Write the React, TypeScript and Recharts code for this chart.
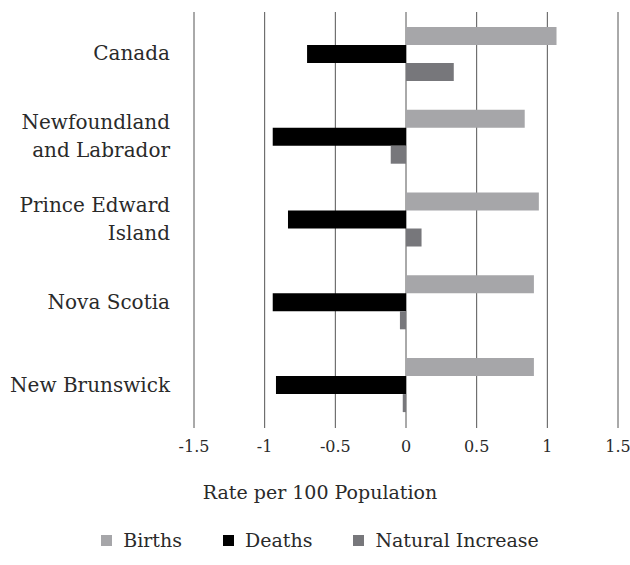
import { Bar, BarChart, CartesianGrid, Legend, XAxis, YAxis } from "recharts"

const categories = ["Canada", "Newfoundland and Labrador", "Prince Edward Island", "Nova Scotia", "New Brunswick"]
// how each province name wraps on the axis
const categoryLines = [["Canada"], ["Newfoundland", "and Labrador"], ["Prince Edward", "Island"], ["Nova Scotia"], ["New Brunswick"]]
const births = [1.065, 0.84, 0.94, 0.905, 0.905]
const deaths = [-0.7, -0.943, -0.835, -0.943, -0.92]
const naturalIncrease = [0.338, -0.108, 0.11, -0.043, -0.023]
const xTicks = [-1.5, -1, -0.5, 0, 0.5, 1, 1.5]

const SERIES = [
  { key: "births", name: "Births", color: "#a6a6a9" },
  { key: "deaths", name: "Deaths", color: "#000000" },
  { key: "natural", name: "Natural Increase", color: "#77777b" },
]

const FONT = "'DejaVu Serif', serif"

const data = categories.map((name, i) => ({
  name,
  births: births[i],
  deaths: deaths[i],
  natural: naturalIncrease[i],
}))

function ProvinceTick({ x, y, index }: any) {
  const lines = categoryLines[index] || []
  const start = -((lines.length - 1) * 28) / 2
  return (
    <text x={x} y={y} textAnchor="end" fill="#2a2a2a" fontSize={20} fontFamily={FONT}>
      {lines.map((line, i) => (
        <tspan key={i} x={x} y={y + start + i * 28} dy="0.35em">
          {line}
        </tspan>
      ))}
    </text>
  )
}

function Footer() {
  return (
    <div style={{ fontFamily: FONT, color: "#2a2a2a", paddingLeft: 10 }}>
      <div style={{ textAlign: "center", fontSize: 19, height: 26, lineHeight: "26px", marginTop: 13 }}>
        Rate per 100 Population
      </div>
      <div style={{ display: "flex", justifyContent: "center", fontSize: 19, marginTop: 22, lineHeight: "26px" }}>
        {SERIES.map((s, i) => (
          <div key={s.key} style={{ display: "flex", alignItems: "center", marginLeft: i === 0 ? 0 : 41 }}>
            <span style={{ width: 11, height: 11, background: s.color, display: "inline-block", marginRight: 11 }} />
            <span>{s.name}</span>
          </div>
        ))}
      </div>
    </div>
  )
}

export default function App() {
  return (
    <div style={{ position: "absolute", left: 0, top: 0, background: "#fff" }}>
      <BarChart
        width={630}
        height={565}
        data={data}
        layout="vertical"
        margin={{ top: 12, right: 12, bottom: 0, left: 0 }}
        barCategoryGap="18%"
        barGap={0}
      >
        <CartesianGrid horizontal={false} vertical={true} stroke="#555" />
        <XAxis
          type="number"
          domain={[-1.5, 1.5]}
          ticks={xTicks}
          height={40}
          axisLine={false}
          tickLine={{ stroke: "#555" }}
          tickSize={2}
          tickMargin={13}
          tick={{ fill: "#2a2a2a", fontSize: 16, fontFamily: FONT }}
        />
        <YAxis
          type="category"
          dataKey="name"
          width={194}
          axisLine={false}
          tickLine={false}
          tick={<ProvinceTick />}
          tickMargin={18}
          interval={0}
        />
        <Legend verticalAlign="bottom" height={99} wrapperStyle={{ left: 0, width: 630, bottom: 0 }} content={() => <Footer />} />
        {SERIES.map((s) => (
          <Bar key={s.key} dataKey={s.key} name={s.name} fill={s.color} isAnimationActive={false} />
        ))}
      </BarChart>
    </div>
  )
}
